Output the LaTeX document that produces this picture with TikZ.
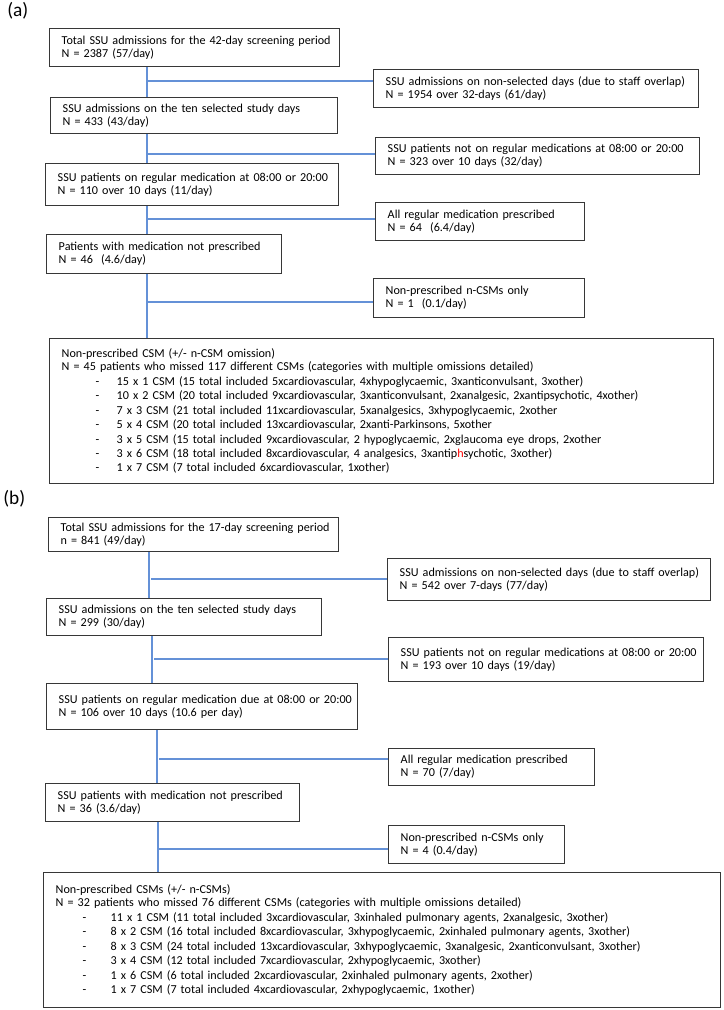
\documentclass[tikz,border=0pt]{standalone}
\usepackage{fontspec}
\setmainfont{Carlito}
\definecolor{linec}{RGB}{100,145,215}
\definecolor{boxc}{RGB}{55,55,55}
\tikzset{
  fbox/.style={draw=boxc, line width=1.1pt, anchor=north west, inner xsep=0pt, inner ysep=0pt, align=left, font=\fontsize{9.1}{9.75}\selectfont},
  conn/.style={draw=linec, line width=0.8pt},
  panel/.style={anchor=west, inner sep=0pt, font=\fontsize{14.5}{16}\selectfont}
}
\newcommand\flowbox[7]{%
  \pgfmathsetmacro\fbw{(#4-#2)*0.75}%
  \pgfmathsetmacro\fbh{(#5-#3)*0.75}%
  \pgfmathsetmacro\fbt{(#4-#2-24)*0.75}%
  \node[fbox, minimum width=\fbw pt, minimum height=\fbh pt, text width=\fbt pt] (#1) at (#2,#3) {\mbox{#6}\\\mbox{#7}};}
\newcommand\bigbox[6]{%
  \pgfmathsetmacro\fbw{(#4-#2)*0.75}%
  \pgfmathsetmacro\fbh{(#5-#3)*0.75}%
  \pgfmathsetmacro\fbt{(#4-#2-24)*0.75}%
  \node[fbox, minimum width=\fbw pt, minimum height=\fbh pt, text width=\fbt pt] (#1) at (#2,#3) {#6};}
\newcommand\bula[1]{\mbox{\hspace*{25.5pt}\makebox[15.75pt][l]{-}#1}}
\newcommand\bulb[1]{\mbox{\hspace*{20.25pt}\makebox[21pt][l]{-}#1}}
\begin{document}
\begin{tikzpicture}[x=0.75pt, y=-0.75pt]
\useasboundingbox (0,0) rectangle (724,1010);
\fill[white] (0,0) rectangle (724,1010);

% ---------------- (a) ----------------
\node[panel] (la) at (7,11) {(a)};
\flowbox{A1}{49}{28}{339}{66}{Total SSU admissions for the 42-day screening period}{N = 2387 (57/day)}
\flowbox{R1}{373}{69}{698}{107}{SSU admissions on non-selected days (due to staff overlap)}{N = 1954 over 32-days (61/day)}
\flowbox{A2}{50}{97}{337}{133}{SSU admissions on the ten selected study days}{N = 433 (43/day)}
\flowbox{R2}{375}{137}{699}{174}{SSU patients not on regular medications at 08:00 or 20:00}{N = 323 over 10 days (32/day)}
\flowbox{A3}{45}{163}{338}{205}{SSU patients on regular medication at 08:00 or 20:00}{N = 110 over 10 days (11/day)}
\flowbox{R3}{375}{202}{584}{240}{All regular medication prescribed}{N = 64~ (6.4/day)}
\flowbox{A4}{46}{234}{281}{273}{Patients with medication not prescribed}{N = 46~ (4.6/day)}
\flowbox{R4}{373}{278}{584}{317}{Non-prescribed n-CSMs only}{N = 1~ (0.1/day)}
\bigbox{BA}{49}{338}{713}{483}{%
\mbox{Non-prescribed CSM (+/- n-CSM omission)}\\
\mbox{N = 45 patients who missed 117 different CSMs (categories with multiple omissions detailed)}\\[1.1pt]
\bula{15 x 1 CSM (15 total included 5xcardiovascular, 4xhypoglycaemic, 3xanticonvulsant, 3xother)}\\[1.1pt]
\bula{10 x 2 CSM (20 total included 9xcardiovascular, 3xanticonvulsant, 2xanalgesic, 2xantipsychotic, 4xother)}\\[1.1pt]
\bula{7 x 3 CSM (21 total included 11xcardiovascular, 5xanalgesics, 3xhypoglycaemic, 2xother}\\[1.1pt]
\bula{5 x 4 CSM (20 total included 13xcardiovascular, 2xanti-Parkinsons, 5xother}\\[1.1pt]
\bula{3 x 5 CSM (15 total included 9xcardiovascular, 2 hypoglycaemic, 2xglaucoma eye drops, 2xother}\\[1.1pt]
\bula{3 x 6 CSM (18 total included 8xcardiovascular, 4 analgesics, 3xantip\textcolor{red}{h}sychotic, 3xother)}\\[1.1pt]
\bula{1 x 7 CSM (7 total included 6xcardiovascular, 1xother)}}

\coordinate (va) at (147,0);
\coordinate (ba1) at (147,81);
\coordinate (ba2) at (147,154);
\coordinate (ba3) at (147,219);
\coordinate (ba4) at (147,302);
\draw[conn] (A1.south -| va) -- (A2.north -| va);
\draw[conn] (A2.south -| va) -- (A3.north -| va);
\draw[conn] (A3.south -| va) -- (A4.north -| va);
\draw[conn] (A4.south -| va) -- (BA.north -| va);
\draw[conn] (ba1) -- (ba1 -| R1.west);
\draw[conn] (ba2) -- (ba2 -| R2.west);
\draw[conn] (ba3) -- (ba3 -| R3.west);
\draw[conn] (ba4) -- (ba4 -| R4.west);

% ---------------- (b) ----------------
\node[panel] (lb) at (3,499) {(b)};
\flowbox{B1}{48}{517}{338}{551}{Total SSU admissions for the 17-day screening period}{n = 841 (49/day)}
\flowbox{S1}{387}{558}{710}{600}{SSU admissions on non-selected days (due to staff overlap)}{N = 542 over 7-days (77/day)}
\flowbox{B2}{46}{598}{321}{635}{SSU admissions on the ten selected study days}{N = 299 (30/day)}
\flowbox{S2}{388}{637}{703}{681}{SSU patients not on regular medications at 08:00 or 20:00}{N = 193 over 10 days (19/day)}
\flowbox{B3}{46}{683}{357}{729}{SSU patients on regular medication due at 08:00 or 20:00}{N = 106 over 10 days (10.6 per day)}
\flowbox{S3}{388}{748}{594}{785}{All regular medication prescribed}{N = 70 (7/day)}
\flowbox{B4}{45}{783}{299}{821}{SSU patients with medication not prescribed}{N = 36 (3.6/day)}
\flowbox{S4}{388}{825}{564}{863}{Non-prescribed n-CSMs only}{N = 4 (0.4/day)}
\bigbox{BB}{43}{872}{720}{1007}{%
\mbox{Non-prescribed CSMs (+/- n-CSMs)}\\
\mbox{N = 32 patients who missed 76 different CSMs (categories with multiple omissions detailed)}\\[1.1pt]
\bulb{11 x 1 CSM (11 total included 3xcardiovascular, 3xinhaled pulmonary agents, 2xanalgesic, 3xother)}\\[1.1pt]
\bulb{8 x 2 CSM (16 total included 8xcardiovascular, 3xhypoglycaemic, 2xinhaled pulmonary agents, 3xother)}\\[1.1pt]
\bulb{8 x 3 CSM (24 total included 13xcardiovascular, 3xhypoglycaemic, 3xanalgesic, 2xanticonvulsant, 3xother)}\\[1.1pt]
\bulb{3 x 4 CSM (12 total included 7xcardiovascular, 2xhypoglycaemic, 3xother)}\\[1.1pt]
\bulb{1 x 6 CSM (6 total included 2xcardiovascular, 2xinhaled pulmonary agents, 2xother)}\\[1.1pt]
\bulb{1 x 7 CSM (7 total included 4xcardiovascular, 2xhypoglycaemic, 1xother)}}

\coordinate (vb1) at (149,0);
\coordinate (vb2) at (152,0);
\coordinate (vb3) at (157,0);
\coordinate (vb4) at (158,0);
\coordinate (bb1) at (151,579);
\coordinate (bb2) at (154,659);
\coordinate (bb3) at (159,759);
\coordinate (bb4) at (158,849);
\draw[conn] (B1.south -| vb1) -- (B2.north -| vb1);
\draw[conn] (B2.south -| vb2) -- (B3.north -| vb2);
\draw[conn] (B3.south -| vb3) -- (B4.north -| vb3);
\draw[conn] (B4.south -| vb4) -- (BB.north -| vb4);
\draw[conn] (bb1) -- (bb1 -| S1.west);
\draw[conn] (bb2) -- (bb2 -| S2.west);
\draw[conn] (bb3) -- (bb3 -| S3.west);
\draw[conn] (bb4) -- (bb4 -| S4.west);
\end{tikzpicture}
\end{document}
